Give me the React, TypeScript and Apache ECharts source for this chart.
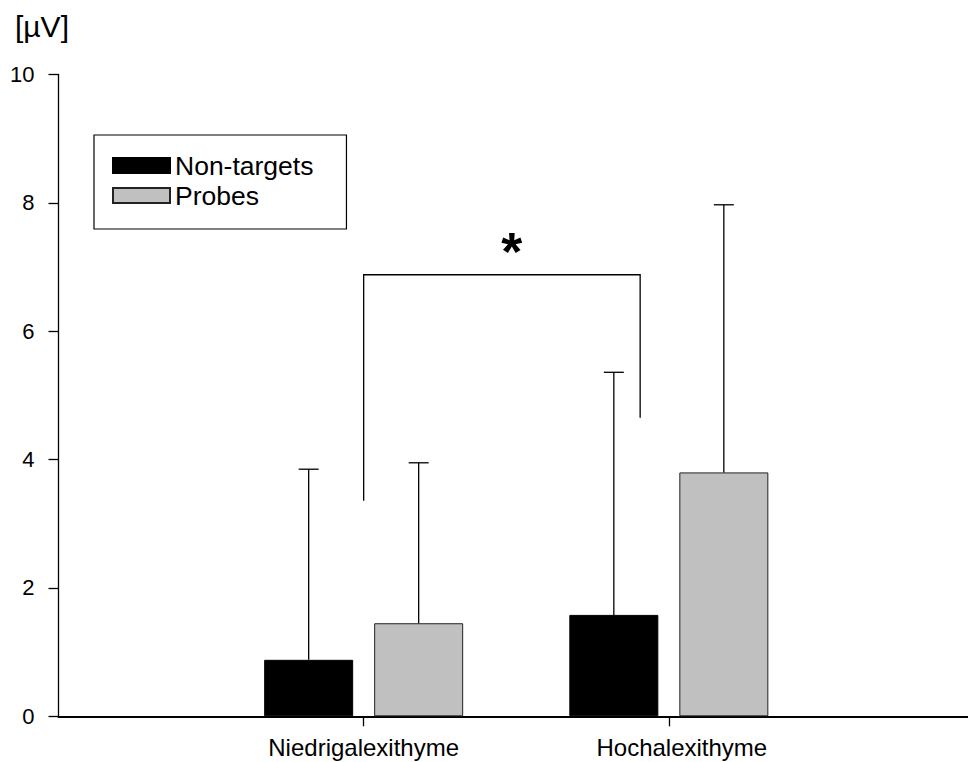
import React, { useEffect, useRef } from "react";
import * as echarts from "echarts";

const categories = ["", "Niedrigalexithyme", "Hochalexithyme", ""];
const seriesNames = ["Non-targets", "Probes"];
const nonTargets = ["-", 0.88, 1.58, "-"];
const probes = ["-", 1.45, 3.8, "-"];
const nonTargetsErrTop = ["-", 3.85, 5.36, "-"];
const probesErrTop = ["-", 3.95, 7.97, "-"];
const yTicks = [0, 2, 4, 6, 8, 10];
const unitLabel = "[µV]";
// significance bracket: x positions on a 0..3 axis, y values
const bracketX = [1, 1.906];
const bracketY = [3.36, 6.88, 4.65];
const starPos = [1.485, 7.25];
const starText = "*";

const FONT = "'Liberation Sans', Arial, Helvetica, sans-serif";
const BAR_W = 89;
const BAR_GAP = 21;

export default function App() {
  const ref = useRef<HTMLDivElement>(null);
  useEffect(() => {
    if (!ref.current) return;
    const chart = echarts.init(ref.current, undefined, { renderer: "svg" });
    const offset = BAR_W / 2 + BAR_GAP / 2;

    const errSeries = (vals: any[], tops: any[], dir: number, z: number) => ({
      type: "custom",
      xAxisIndex: 0,
      yAxisIndex: 0,
      z,
      silent: true,
      data: vals
        .map((v, i) => (v === "-" ? null : [i, v, tops[i]]))
        .filter((d) => d !== null),
      renderItem: (_p: any, api: any) => {
        const base = api.coord([api.value(0), api.value(1)]);
        const top = api.coord([api.value(0), api.value(2)]);
        const x = base[0] + dir * offset;
        const st = { stroke: "#000", lineWidth: 1.3 };
        return {
          type: "group",
          children: [
            { type: "line", shape: { x1: x, y1: base[1], x2: x, y2: top[1] }, style: st },
            { type: "line", shape: { x1: x - 10, y1: top[1], x2: x + 10, y2: top[1] }, style: st },
          ],
        };
      },
    });

    const catData = categories.map((c, i) =>
      i === 2 ? { value: c, textStyle: { padding: [0, 0, 0, 26] } } : c
    );

    const option: any = {
      animation: false,
      backgroundColor: "#fff",
      grid: { left: 58.5, right: 0, top: 74.5, bottom: 45.7, containLabel: false },
      legend: {
        left: 94,
        top: 135,
        orient: "vertical",
        data: seriesNames,
        itemWidth: 57,
        itemHeight: 15,
        itemGap: 3,
        borderColor: "#000",
        borderWidth: 1.2,
        borderRadius: 0,
        padding: [17, 33, 20, 18],
        textStyle: { fontFamily: FONT, fontSize: 26.5, color: "#000", lineHeight: 24 },
        icon: "rect",
      },
      graphic: [
        {
          type: "text",
          left: 15,
          top: 11,
          style: { text: unitLabel, font: `30px ${FONT}`, fill: "#000" },
        },
      ],
      xAxis: [
        {
          type: "category",
          data: catData,
          boundaryGap: false,
          axisLine: { lineStyle: { color: "#000", width: 2 } },
          axisTick: {
            length: 10,
            interval: (i: number) => i === 1 || i === 2,
            lineStyle: { color: "#000", width: 1.3 },
          },
          axisLabel: {
            interval: 0,
            margin: 19,
            color: "#000",
            fontFamily: FONT,
            fontSize: 24,
          },
          splitLine: { show: false },
        },
        {
          type: "value",
          min: 0,
          max: 3,
          show: false,
          position: "bottom",
        },
      ],
      yAxis: {
        type: "value",
        min: yTicks[0],
        max: yTicks[yTicks.length - 1],
        interval: yTicks[1] - yTicks[0],
        axisLine: { show: true, lineStyle: { color: "#000", width: 1.3 } },
        axisTick: { show: true, length: 10, lineStyle: { color: "#000", width: 1.3 } },
        axisLabel: { margin: 24, color: "#000", fontFamily: FONT, fontSize: 22 },
        splitLine: { show: false },
      },
      series: [
        {
          name: seriesNames[0],
          type: "bar",
          data: nonTargets,
          barWidth: BAR_W,
          barGap: `${(BAR_GAP / BAR_W) * 100}%`,
          itemStyle: { color: "#000", borderColor: "#000", borderWidth: 1 },
          z: 2,
        },
        {
          name: seriesNames[1],
          type: "bar",
          data: probes,
          barWidth: BAR_W,
          barGap: `${(BAR_GAP / BAR_W) * 100}%`,
          itemStyle: { color: "#c0c0c0", borderColor: "#222", borderWidth: 1 },
          z: 2,
        },
        errSeries(nonTargets, nonTargetsErrTop, -1, 3),
        errSeries(probes, probesErrTop, 1, 3),
        {
          type: "custom",
          xAxisIndex: 1,
          yAxisIndex: 0,
          silent: true,
          z: 4,
          data: [[bracketX[0], bracketX[1], bracketY[0], bracketY[1], bracketY[2], starPos[0], starPos[1]]],
          renderItem: (_p: any, api: any) => {
            const a = api.coord([api.value(0), api.value(2)]);
            const b = api.coord([api.value(0), api.value(3)]);
            const c = api.coord([api.value(1), api.value(3)]);
            const d = api.coord([api.value(1), api.value(4)]);
            const s = api.coord([api.value(5), api.value(6)]);
            return {
              type: "group",
              children: [
                {
                  type: "polyline",
                  shape: { points: [a, b, c, d] },
                  style: { stroke: "#000", lineWidth: 1.3, fill: "none" },
                },
                {
                  type: "text",
                  x: s[0],
                  y: s[1],
                  style: {
                    text: starText,
                    font: `bold 54px ${FONT}`,
                    fill: "#000",
                    align: "center",
                    verticalAlign: "middle",
                  },
                },
              ],
            };
          },
        },
      ],
    };
    chart.setOption(option);
    return () => chart.dispose();
  }, []);
  return (
    <div
      style={{
        position: "fixed",
        left: 0,
        top: 0,
        width: 968,
        height: 762,
        overflow: "hidden",
        background: "#fff",
      }}
    >
      <div ref={ref} style={{ position: "absolute", left: 0, top: 0, width: 976.5, height: 762 }} />
    </div>
  );
}
